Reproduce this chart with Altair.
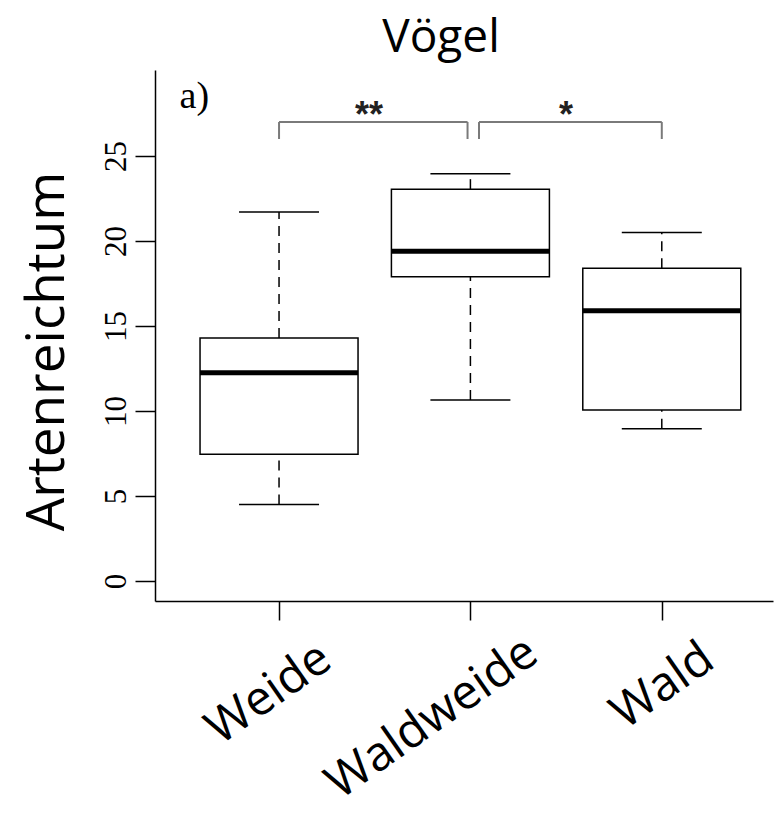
import json
import altair as alt
import pandas as pd

# ---- data ----
categories = ["Weide", "Waldweide", "Wald"]
positions = [1, 2, 3]
whisker_low = [4.5, 10.65, 8.95]
q1 = [7.45, 17.9, 10.05]
median = [12.25, 19.4, 15.9]
q3 = [14.3, 23.05, 18.4]
whisker_high = [21.7, 23.95, 20.5]

bracket_start = [1.0, 2.045]
bracket_end = [1.985, 3.0]
bracket_top = [27.0, 27.0]
bracket_bottom = [26.0, 26.0]
star_labels = ["**", "*"]
star_x = [1.47, 2.5]
star_y = [26.7, 26.7]

panel_label = ["a)"]
panel_x = [0.48]
panel_y = [27.82]

y_ticks = [0, 5, 10, 15, 20, 25]

# ---- tables ----
boxes = pd.DataFrame({
    "pos": positions, "cat": categories, "low": whisker_low, "q1": q1,
    "median": median, "q3": q3, "high": whisker_high,
})
brackets = pd.DataFrame({"x1": bracket_start, "x2": bracket_end,
                         "top": bracket_top, "bottom": bracket_bottom})
legs = pd.DataFrame({
    "x": bracket_start + bracket_end,
    "top": bracket_top + bracket_top,
    "bottom": bracket_bottom + bracket_bottom,
})
stars = pd.DataFrame({"x": star_x, "y": star_y, "t": star_labels})
panel = pd.DataFrame({"x": panel_x, "y": panel_y, "t": panel_label})

xscale = alt.Scale(domain=[0.378, 3.555], nice=False, zero=False)
yscale = alt.Scale(domain=[-1.18, 30.06], nice=False, zero=False)

label_expr = json.dumps(categories) + "[datum.value - 1]"

xaxis = alt.Axis(
    values=positions, labelExpr=label_expr, title=None, grid=False,
    labelFont="Open Sans", labelFontSize=48, labelColor="black",
    labelAngle=325, labelAlign="right", labelBaseline="top",
    labelPadding={"condition": {"test": "datum.value == 2", "value": 8}, "value": 14},
    labelOffset={"condition": {"test": "datum.value == 2", "value": 48}, "value": 33},
    labelOverlap=False, labelBound=False,
    labelFlush=False, labelLimit=0, tickSize=19, tickColor="black", tickWidth=1.5,
    domainColor="black", domainWidth=1.5,
)
yaxis = alt.Axis(
    values=y_ticks, title="Artenreichtum", grid=False,
    titleFont="Open Sans", titleFontSize=53, titleFontWeight="normal",
    titleColor="black", titleAngle=270, titleAlign="center",
    titleBaseline="alphabetic", titleX=-92, titleY=281,
    labelFont="Liberation Serif", labelFontSize=31, labelColor="black",
    labelAngle=270, labelAlign="center", labelBaseline="alphabetic",
    labelPadding=10, tickSize=20, tickColor="black", tickWidth=1.5,
    domainColor="black", domainWidth=1.5,
)

base = alt.Chart(boxes)

whisk_up = base.mark_rule(color="black", strokeWidth=1.5, strokeDash=[10, 7]).encode(
    x=alt.X("pos:Q", scale=xscale, axis=xaxis),
    y=alt.Y("q3:Q", scale=yscale, axis=yaxis),
    y2="high:Q",
)
whisk_down = base.mark_rule(color="black", strokeWidth=1.5, strokeDash=[10, 7]).encode(
    x="pos:Q", y="low:Q", y2="q1:Q",
)
box = base.mark_bar(size=158, fill="white", stroke="black", strokeWidth=1.5).encode(
    x="pos:Q", y="q1:Q", y2="q3:Q",
)
med = base.mark_tick(orient="horizontal", size=158, thickness=5, color="black", opacity=1).encode(
    x="pos:Q", y="median:Q",
)
cap_hi = base.mark_tick(orient="horizontal", size=80, thickness=1.5, color="black", opacity=1).encode(
    x="pos:Q", y="high:Q",
)
cap_lo = base.mark_tick(orient="horizontal", size=80, thickness=1.5, color="black", opacity=1).encode(
    x="pos:Q", y="low:Q",
)

br_h = alt.Chart(brackets).mark_rule(color="#7a7a7a", strokeWidth=2).encode(
    x="x1:Q", x2="x2:Q", y="top:Q",
)
br_v = alt.Chart(legs).mark_rule(color="#7a7a7a", strokeWidth=2).encode(
    x="x:Q", y="top:Q", y2="bottom:Q",
)
star_txt = alt.Chart(stars).mark_text(
    font="Liberation Sans", fontSize=36, fontWeight="bold", color="#222222",
    baseline="alphabetic", align="center",
).encode(x="x:Q", y="y:Q", text="t:N")
panel_txt = alt.Chart(panel).mark_text(
    font="Liberation Serif", fontSize=38, color="black", baseline="alphabetic", align="left",
).encode(x="x:Q", y="y:Q", text="t:N")

chart = alt.layer(
    whisk_up, whisk_down, box, med, cap_hi, cap_lo, br_h, br_v, star_txt, panel_txt
).properties(
    width=618, height=531,
    autosize=alt.AutoSizeParams(type="none"),
    padding={"left": 147, "top": 62, "right": 2, "bottom": 215},
    title=alt.Title("Vögel", font="Open Sans", fontSize=46, fontWeight="normal",
                    color="black", anchor="middle", dx=-23,
                    baseline="alphabetic", offset=-28),
).configure(background="white").configure_view(strokeWidth=0)

chart.save("out.html", embed_options={"renderer": "svg", "actions": False})
